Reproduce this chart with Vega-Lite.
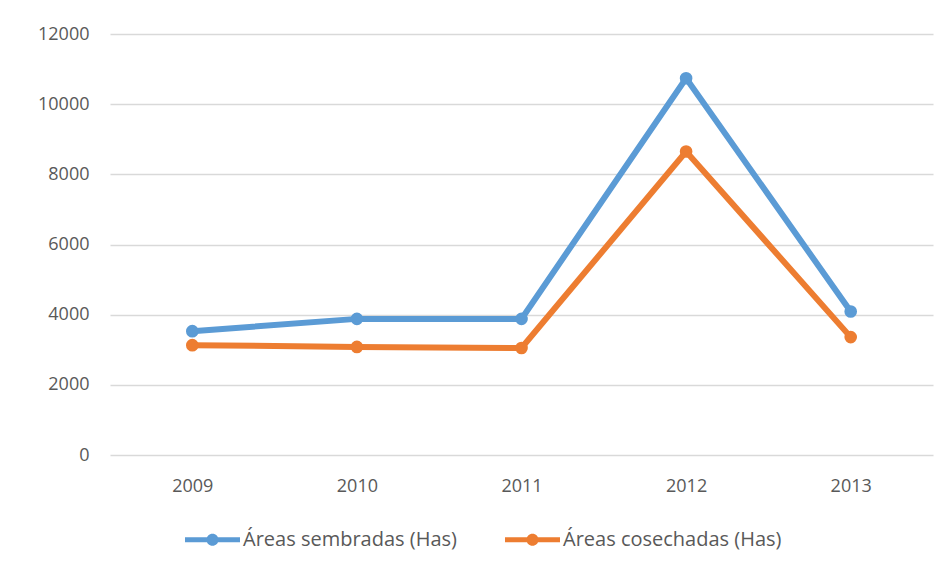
{
  "$schema": "https://vega.github.io/schema/vega-lite/v6.json",
  "autosize": {"type": "none"},
  "width": 823,
  "height": 421,
  "padding": {"left": 110, "top": 34, "right": 19, "bottom": 120},
  "background": "white",
  "config": {
    "view": {"stroke": null},
    "font": "Open Sans",
    "axis": {"labelFont": "Open Sans", "labelColor": "#595959", "labelFontSize": 18, "domain": false, "ticks": false, "title": null},
    "legend": {"labelFont": "Open Sans", "labelColor": "#595959", "labelFontSize": 20}
  },
  "data": {
    "values": [
      {"year": "2009", "serie": "Áreas sembradas (Has)", "value": 3530},
      {"year": "2010", "serie": "Áreas sembradas (Has)", "value": 3880},
      {"year": "2011", "serie": "Áreas sembradas (Has)", "value": 3880},
      {"year": "2012", "serie": "Áreas sembradas (Has)", "value": 10740},
      {"year": "2013", "serie": "Áreas sembradas (Has)", "value": 4090},
      {"year": "2009", "serie": "Áreas  cosechadas (Has)", "value": 3130},
      {"year": "2010", "serie": "Áreas  cosechadas (Has)", "value": 3080},
      {"year": "2011", "serie": "Áreas  cosechadas (Has)", "value": 3050},
      {"year": "2012", "serie": "Áreas  cosechadas (Has)", "value": 8650},
      {"year": "2013", "serie": "Áreas  cosechadas (Has)", "value": 3360}
    ]
  },
  "encoding": {
    "x": {
      "field": "year", "type": "ordinal",
      "scale": {"type": "point", "padding": 0.5},
      "axis": {"labelAngle": 0, "labelPadding": 22, "grid": false}
    },
    "y": {
      "field": "value", "type": "quantitative",
      "scale": {"domain": [0, 12000]},
      "axis": {"values": [0, 2000, 4000, 6000, 8000, 10000, 12000], "grid": true, "gridColor": "#d9d9d9", "gridWidth": 1.5, "labelPadding": 21, "format": "d"}
    },
    "color": {
      "field": "serie", "type": "nominal",
      "sort": ["Áreas sembradas (Has)", "Áreas  cosechadas (Has)"],
      "scale": {"domain": ["Áreas sembradas (Has)", "Áreas  cosechadas (Has)"], "range": ["#5B9BD5", "#ED7D31"]},
      "legend": {
        "title": null,
        "orient": "none",
        "direction": "horizontal",
        "legendX": 75,
        "legendY": 478,
        "symbolType": "M-1,-0.09L1,-0.09L1,0.09L-1,0.09Z M0.22,0A0.22,0.22 0 1,1 -0.22,0A0.22,0.22 0 1,1 0.22,0Z",
        "symbolSize": 3025,
        "symbolStrokeWidth": 0,
        "labelOffset": 3,
        "columnPadding": 48,
        "labelLimit": 400
      }
    }
  },
  "layer": [
    {"mark": {"type": "line", "strokeWidth": 6}},
    {"mark": {"type": "point", "filled": true, "size": 160, "opacity": 1}}
  ]
}
